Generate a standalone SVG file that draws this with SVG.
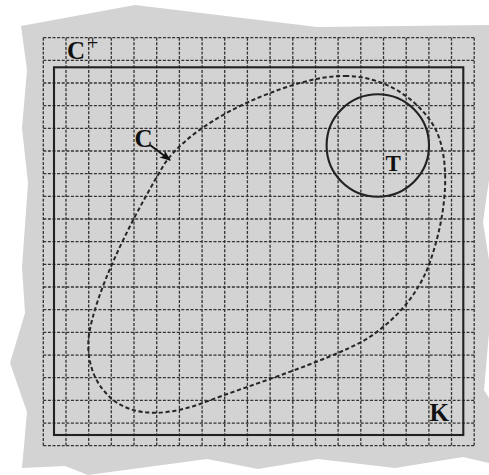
<svg xmlns="http://www.w3.org/2000/svg" width="489" height="475" viewBox="0 0 489 475">
<style>
.bg{fill:#d3d3d3;stroke:none}
.grid{fill:none;stroke:#333;stroke-width:1.3;stroke-dasharray:3 1.6}
.solid{fill:none;stroke:#222;stroke-width:2.1}
.curve{fill:none;stroke:#262626;stroke-width:2;stroke-dasharray:4.2 2.6}
.lbl{font-family:"Liberation Serif","Times New Roman",serif;font-weight:bold;fill:#111}
.sup{font-family:"Liberation Serif","Times New Roman",serif;font-weight:normal;fill:#111}
.arrow{fill:none;stroke:#111;stroke-width:1.8}
</style>
<defs>
<marker id="ah" viewBox="0 0 10 10" refX="9" refY="5" markerWidth="11" markerHeight="11" markerUnits="userSpaceOnUse" orient="auto">
<path d="M0,1 L10,5 L0,9 L2.5,5 Z" fill="#111"/>
</marker>
</defs>
<polygon id="background" class="bg" points="21,26 135,5 317,27 489,25 489,180 483,222 489,260 489,333 484,390 489,398 489,463 463,457 395,468 318,459 258,469 207,459 88,475 65,466 22,468 27,412 10,363 25,313 22,267 28,183 22,128 27,70"/>
<g id="grid">
<path class="grid" d="M43.3,37.7V445.7M66,37.7V445.7M88.7,37.7V445.7M111.3,37.7V445.7M134,37.7V445.7M156.7,37.7V445.7M179.4,37.7V445.7M202.1,37.7V445.7M224.7,37.7V445.7M247.4,37.7V445.7M270.1,37.7V445.7M292.8,37.7V445.7M315.5,37.7V445.7M338.1,37.7V445.7M360.8,37.7V445.7M383.5,37.7V445.7M406.2,37.7V445.7M428.9,37.7V445.7M451.5,37.7V445.7M474.2,37.7V445.7
M43.3,37.7H474.2M43.3,60.4H474.2M43.3,83H474.2M43.3,105.7H474.2M43.3,128.4H474.2M43.3,151H474.2M43.3,173.7H474.2M43.3,196.4H474.2M43.3,219H474.2M43.3,241.7H474.2M43.3,264.4H474.2M43.3,287H474.2M43.3,309.7H474.2M43.3,332.4H474.2M43.3,355.1H474.2M43.3,377.7H474.2M43.3,400.4H474.2M43.3,423.1H474.2M43.3,445.7H474.2"/>
<text class="lbl" x="67" y="58.5" font-size="25">C</text>
<text class="sup" x="87" y="50" font-size="20">+</text>
</g>
<g id="K">
<rect class="solid" x="54" y="67.3" width="409.3" height="367.7"/>
<text class="lbl" x="429.5" y="421" font-size="25">K</text>
</g>
<g id="C">
<path class="curve" d="M345,76 C385,76 420,100 436,130 C450,160 448,210 430,262 C420,290 400,318 365,340 C325,362 250,385 200,404 C160,418 125,416 105,392 C92,378 86,355 89,335 C95,295 125,230 165,163 C185,135 230,105 293,85 C310,80 325,76 345,76 Z"/>
<text class="lbl" x="134.5" y="146.5" font-size="25">C</text>
</g>
<g id="T">
<circle class="solid" cx="377.8" cy="145.5" r="51.2"/>
<text class="lbl" x="385.5" y="170.5" font-size="23">T</text>
</g>
<g id="connectors">
<path class="arrow" d="M150,145 L170,160" marker-end="url(#ah)"/>
</g>
</svg>
